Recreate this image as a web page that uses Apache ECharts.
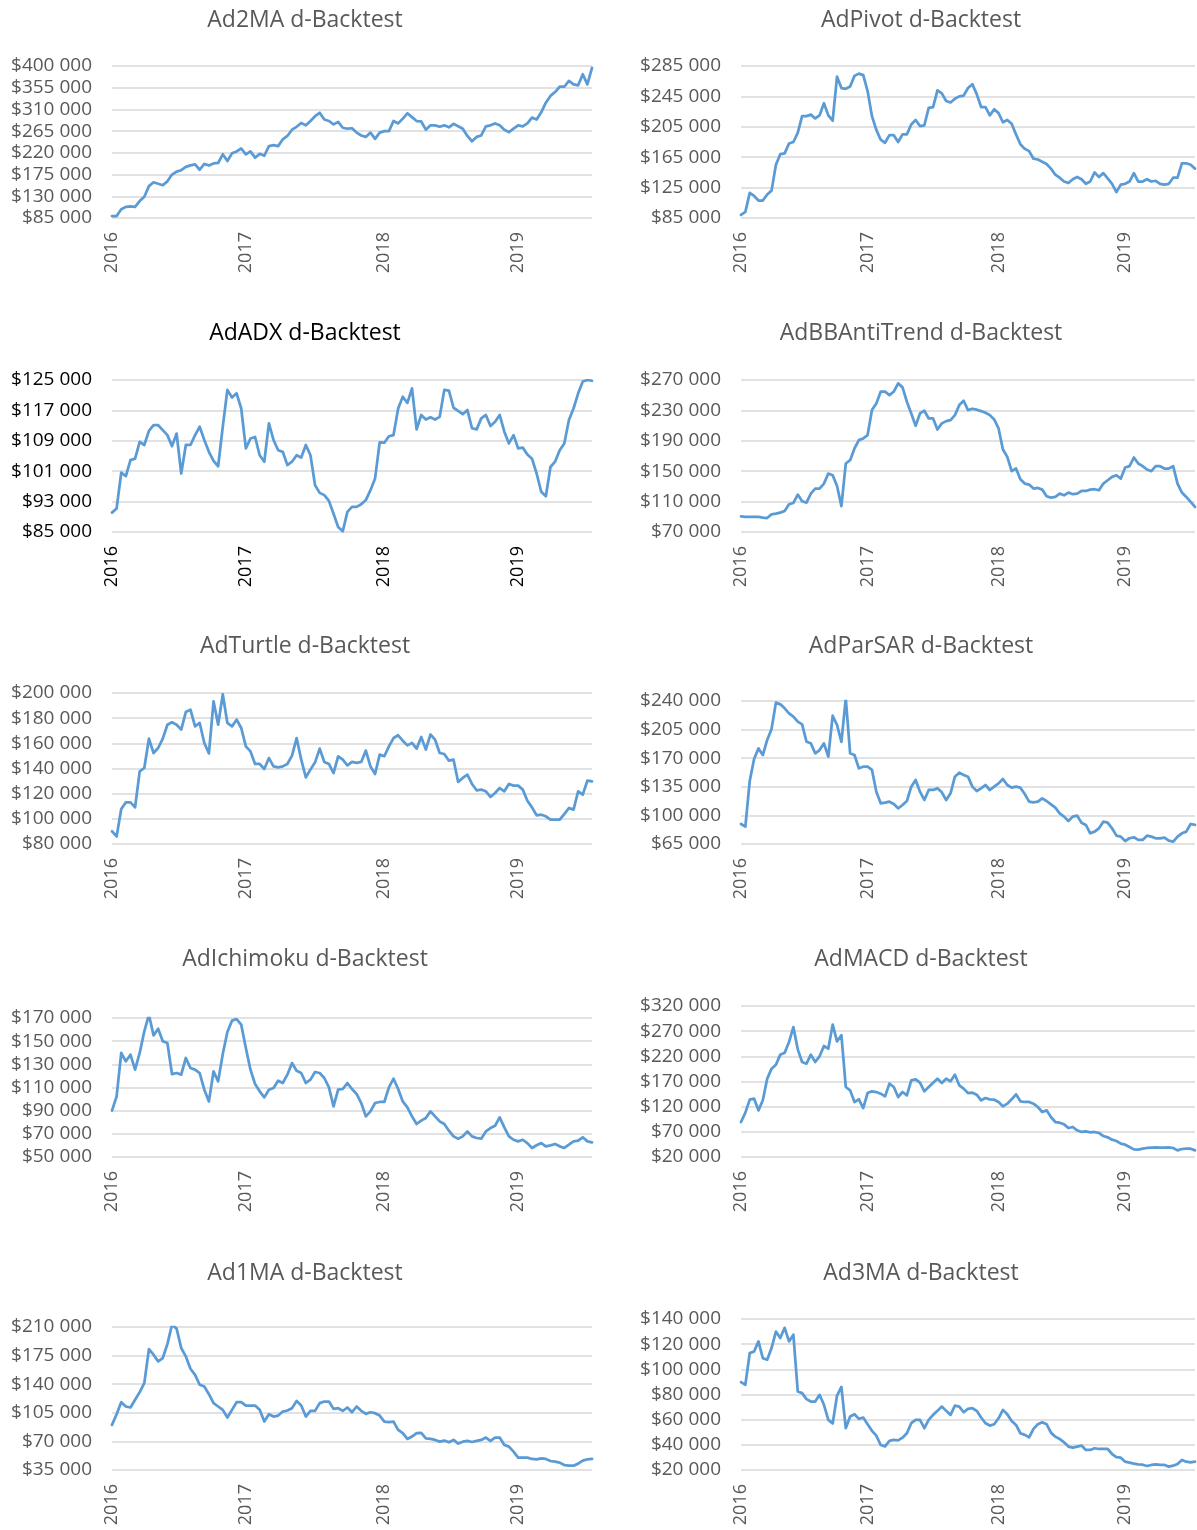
<!DOCTYPE html>
<html>
<head>
<meta charset="utf-8">
<title>d-Backtest</title>
<script src="https://cdn.jsdelivr.net/npm/echarts@6/dist/echarts.min.js"></script>
<style>
  html, body { margin: 0; padding: 0; background: #fff; }
  #chart { width: 1197px; height: 1530px; }
</style>
</head>
<body>
<div id="chart"></div>
<script>
// equity curves, values in thousands of $
const yearTicks = [0, 29, 59, 88]
const yearLabels = ['2016', '2017', '2018', '2019']

const ad2ma = [89,89,103,108,109,108,120,129,151,159,
  156,153,161,175,181,184,191,194,196,185,
  197,194,198,199,217,203,219,223,229,217,
  223,210,218,214,234,236,234,248,255,268,
  274,282,277,286,296,303,289,286,279,284,
  272,270,271,262,256,253,262,249,262,265,
  265,286,281,291,302,294,286,285,268,277,
  277,274,277,273,280,275,270,255,244,253,
  256,275,277,281,277,268,263,270,277,275,
  281,293,289,304,324,338,346,357,357,369,
  362,360,383,362,396]

const adPivot = [89,93,118,114,108,108,116,121,155,169,
  170,183,185,197,219,219,221,216,220,236,
  220,213,271,256,255,258,272,275,273,252,
  219,201,188,184,194,194,185,195,195,208,
  214,206,207,230,231,253,249,239,237,242,
  245,246,256,261,248,231,231,220,228,223,
  211,214,209,195,182,176,173,163,162,159,
  156,150,142,138,133,131,136,139,136,130,
  133,145,139,144,137,130,119,129,130,133,
  144,133,133,136,133,134,130,129,130,138,
  138,157,157,155,150]

const adADX = [90.1,91.2,100.6,99.7,103.9,104.3,108.7,107.9,111.6,113.1,
  113.1,111.8,110.5,107.6,110.9,100.4,107.9,107.9,110.5,112.7,
  109.2,106.1,103.7,102.3,112.7,122.4,120.4,121.5,117.5,107,
  109.6,110,105.2,103.5,113.6,109.2,106.5,106.1,102.6,103.5,
  105.2,104.6,107.9,105.2,97.3,95.3,94.7,93.2,89.8,86.3,
  85.2,90.3,91.6,91.6,92.3,93.4,96,99.1,108.6,108.5,
  110.2,110.5,117.5,120.6,119,122.8,112,115.8,114.6,115.2,
  114.6,115.3,122.4,122.2,117.7,116.9,116,117.1,112.3,112,
  114.9,115.8,112.9,114,115.8,111.4,108.3,110.5,107,107.2,
  105.4,104.3,100.4,95.6,94.4,102.1,103.5,106.5,108.3,114.5,
  117.5,121.5,124.6,125,124.8]

const adBBAntiTrend = [90.6,89.8,89.8,89.8,89.8,88.9,88.4,93.3,94.2,95.5,
  97.7,106.5,108.2,119.2,110.4,108.7,120.5,127.1,127.1,133.7,
  146.9,144.7,130.6,104,160.1,164.5,179.9,190.9,193.1,197.5,
  230.4,239.2,254.6,254.6,250.2,254.6,265.6,260.3,241.4,226,
  209.8,226,229.6,219.4,219.4,204.9,212.9,215.9,217.2,223.8,
  237,242.7,230.4,232.2,230.9,229.1,226.9,223.8,218.1,206.3,
  178.6,168.9,150,153.5,139.4,133.7,132.4,127.1,128,125.8,
  117,115.3,116.1,120.5,118.3,121.9,119.7,120.5,124,124,
  125.8,126.3,124.9,133.7,138.1,142.5,144.7,140.3,154.8,156.6,
  168,160.1,156.6,152.2,150,156.6,156.6,153.5,153.5,156.6,
  133.7,121.9,116.1,109.6,103]

const adTurtle = [90.1,86,107.8,113.1,113.1,109.1,137.7,140.4,163.7,152.3,
  156.3,163.7,174.8,176.7,174.8,170.9,184.9,186.8,173.5,176.2,
  160.3,152,193.4,174.8,199,176.2,173.5,178.8,172.2,157.6,
  153.6,143.6,143.6,139.6,148.3,141.7,140.9,141.7,143.6,150.2,
  164.2,147,133,139.1,144.9,155.8,145.2,143.6,136.4,149.7,
  147,142.5,145.2,144.4,145.2,154.2,141.7,135.6,151,149.7,
  157.6,164.2,166.4,162.1,158.4,160.3,155.8,165,155,167,
  162.9,152.3,151.5,146.2,147,129.3,132.5,135.1,127.7,122.7,
  123.2,121.9,117.4,120.5,124.5,121.9,127.7,126.4,126.4,123.2,
  114.4,109.1,102.8,103.3,102,99.3,99.3,99.3,103.8,108.6,
  107.3,121.9,119.2,130.3,129.8]

const adParSAR = [89.5,86.2,142.1,169,182,173.9,192.3,205.7,238,235.9,
  231,224.9,220.8,214.7,211.4,190.2,188.2,176,180,188.2,
  171.9,222,210.6,190,243,176,173.9,157.6,159.6,159.6,
  155.6,129,114.8,115.6,116.8,114,108.7,112.7,117.6,135.2,
  143.3,129,118.9,131.1,131.1,133.1,128.2,118.9,127,147.4,
  152.3,149.4,147.4,135.2,129.9,133.1,137.2,131.1,135.2,139.2,
  144.5,137.2,133.9,135.2,133.9,126.2,116.8,116,116.8,120.9,
  117.6,113.5,109.5,102.5,98.5,93.2,98.5,99.7,91.1,88.3,
  78.1,80.1,84.2,92.3,91.1,84.2,75.2,74,68.7,72,
  73.2,70,70,75.2,74,72,72,72.8,69.1,67.9,
  74,78.1,80.1,89.5,88.3]

const adIchimoku = [90,102.4,139.8,132.6,138.3,125.4,139.8,158.5,172.9,155,
  160.8,149.9,148.4,121.6,122.5,121.1,135.5,126.8,125.4,122.5,
  108.1,98,124,115.3,138.9,157.9,167.7,169.1,164.2,144.1,
  125.4,113,106.7,101.5,108.1,109.6,115.9,113.9,121.1,131.1,
  124.5,122.5,113.9,116.8,123.4,122.5,118.2,110.1,93.7,108.1,
  108.7,113.9,108.7,104.4,96.6,85.1,89.4,96.6,97.5,97.5,
  110.1,117.6,108.7,98,92.9,85.1,78.5,81.4,83.7,89.4,
  85.1,80.8,78.5,72.7,67.8,65.8,67.8,72.1,67.8,66.4,
  65.8,72.1,75,77,84.2,75.6,67.8,64.9,63.5,64.9,
  62,57.8,60.1,62,59.2,60.1,61.2,59.2,57.8,60.6,
  63.5,64.1,67,63.5,62.6]

const adMACD = [89.5,108.1,133.9,135.9,112.7,132.6,175.6,195.5,203.4,223.3,
  227.3,248.5,278,233.9,208.7,205.4,223.3,208.7,220,240.5,
  235.2,283,249.8,262,159.1,152.4,129.3,134.6,117.3,147.1,
  150.5,149.1,145.8,140.5,165.7,159.1,139.2,149.1,142.5,172.3,
  174.3,167.7,150.5,159.1,167.7,175.6,167,175.6,170.3,183.6,
  162.4,155.8,147.1,147.8,143.8,132.6,137.2,134.6,133.9,129.3,
  120.6,125.9,134.6,144.5,130.6,129.3,129.3,125.9,119.3,109.4,
  112.7,99.5,89.5,88.2,84.9,77.6,79.6,73,69.7,71,
  69,69.7,67.7,61.7,59.1,54.4,51.8,46.5,44.5,39.8,
  35.2,34.6,36.5,37.9,38.5,39.2,38.5,38.5,39.2,37.9,
  33.2,35.9,36.5,36.5,33.2]

const ad1MA = [90.2,103.3,118,112.7,111.5,120.9,130.3,141.3,183,176.1,
  167.9,172,189.1,212.9,208,184.2,174,158.9,151.5,139.3,
  137.2,127.8,116.8,112.7,108.6,99.2,108.6,118,118,113.9,
  113.9,113.9,108.6,94.3,103.3,100.4,101.6,106.5,107.8,110.6,
  119.6,113.9,100.4,107.4,107.4,116.8,118.8,118.8,109.8,110.6,
  107.4,111.5,105.7,112.7,107.4,103.7,105.7,104.5,101.6,94.3,
  93.5,94.3,84.1,80,73,75.9,80,80.4,73.8,73,
  71.8,69.7,71,68.9,71.8,67.3,69.7,70.6,69.3,70.6,
  71.8,74.7,70.6,74.7,74.7,65.7,63.6,57.5,50.1,50.1,
  50.1,48.5,48.1,49.3,48.5,46,45.2,44,41.1,40.3,
  40.3,42.8,46.4,48.1,48.5]

const ad3MA = [89.8,87.7,112.9,114.2,122.2,108.9,107.6,116.9,130,124.9,
  133,122.2,127.5,82.4,81.1,76.3,74.4,74.4,79.7,71.8,
  59.8,57,79.2,86,53.2,62.5,64.3,60.6,61.7,56.4,
  51.1,47.3,39.9,38.8,43.1,43.9,43.6,45.7,49.2,57.2,
  59.8,59.8,53.2,59.8,63.8,67,70.4,67,63.8,71.2,
  70.4,65.9,68.6,69.1,67,61.7,57.2,55.3,56.4,61.1,
  67.8,64.3,59,55.8,49.2,47.9,46,52.7,56.4,58,
  56.4,49.7,46.5,44.7,42,38.6,37.8,38.6,39.4,35.9,
  35.9,37.3,36.7,36.7,36.7,32.7,30.3,29.8,26.6,25.8,
  25,24.5,24.2,23.2,24,24.5,24,24,22.7,23.4,
  24.8,28,26.6,26.1,26.6]

// name, series, y axis min / max / step (thousands)
const panels = [
  { name: 'Ad2MA d-Backtest', data: ad2ma, min: 85, max: 400, step: 45 },
  { name: 'AdPivot d-Backtest', data: adPivot, min: 85, max: 285, step: 40 },
  { name: 'AdADX d-Backtest', data: adADX, min: 85, max: 125, step: 8, dark: true },
  { name: 'AdBBAntiTrend d-Backtest', data: adBBAntiTrend, min: 70, max: 270, step: 40 },
  { name: 'AdTurtle d-Backtest', data: adTurtle, min: 80, max: 200, step: 20 },
  { name: 'AdParSAR d-Backtest', data: adParSAR, min: 65, max: 240, step: 35 },
  { name: 'AdIchimoku d-Backtest', data: adIchimoku, min: 50, max: 170, step: 20 },
  { name: 'AdMACD d-Backtest', data: adMACD, min: 20, max: 320, step: 50 },
  { name: 'Ad1MA d-Backtest', data: ad1MA, min: 35, max: 210, step: 35 },
  { name: 'Ad3MA d-Backtest', data: ad3MA, min: 20, max: 140, step: 20 }
]

// plot boxes in px
const boxes = [
  { top: 66, height: 152, titleY: 18 },
  { top: 66, height: 152, titleY: 18 },
  { top: 380, height: 152, titleY: 331 },
  { top: 380, height: 152, titleY: 331 },
  { top: 693, height: 151, titleY: 644 },
  { top: 701, height: 143, titleY: 644 },
  { top: 1018, height: 139, titleY: 957 },
  { top: 1006, height: 151, titleY: 957 },
  { top: 1327, height: 143, titleY: 1271 },
  { top: 1319, height: 151, titleY: 1271 }
]
const columns = [
  { left: 112, width: 480, titleX: 305 },
  { left: 741, width: 454, titleX: 921 }
]

const FONT = '"Open Sans", "Liberation Sans", sans-serif'
const GREY = '#595959'

const chart = echarts.init(document.getElementById('chart'))

const title = [], grid = [], xAxis = [], yAxis = [], series = []
panels.forEach((p, i) => {
  const col = columns[i % 2]
  const box = boxes[i]
  const textColor = p.dark ? '#000000' : GREY
  const cats = p.data.map((_, k) => k)

  title.push({
    text: p.name,
    left: col.titleX,
    top: box.titleY - 9,
    textAlign: 'center',
    padding: 0,
    textStyle: { fontFamily: FONT, fontSize: 23, fontWeight: 'normal', color: textColor }
  })
  grid.push({ left: col.left, width: col.width, top: box.top, height: box.height })
  xAxis.push({
    type: 'category',
    gridIndex: i,
    data: cats,
    boundaryGap: false,
    axisLine: { show: false },
    axisTick: { show: false },
    splitLine: { show: false },
    axisLabel: {
      rotate: 90,
      margin: 14,
      interval: (idx) => yearTicks.includes(idx),
      formatter: (v, idx) => yearLabels[yearTicks.indexOf(idx)] || '',
      fontFamily: FONT,
      fontSize: 18,
      color: textColor
    }
  })
  yAxis.push({
    type: 'value',
    gridIndex: i,
    min: p.min,
    max: p.max,
    interval: p.step,
    axisLine: { show: false },
    axisTick: { show: false },
    splitLine: { lineStyle: { color: '#D9D9D9', width: 1.5 } },
    axisLabel: {
      margin: 20,
      formatter: v => '$' + v + ' 000',
      fontFamily: FONT,
      fontSize: 19,
      color: textColor
    }
  })
  series.push({
    type: 'line',
    xAxisIndex: i,
    yAxisIndex: i,
    data: p.data,
    showSymbol: false,
    symbol: 'none',
    lineStyle: { color: '#5B9BD5', width: 2.75, cap: 'round', join: 'round' },
    animation: false
  })
})

chart.setOption({
  animation: false,
  title,
  grid,
  xAxis,
  yAxis,
  series
})
</script>
</body>
</html>
